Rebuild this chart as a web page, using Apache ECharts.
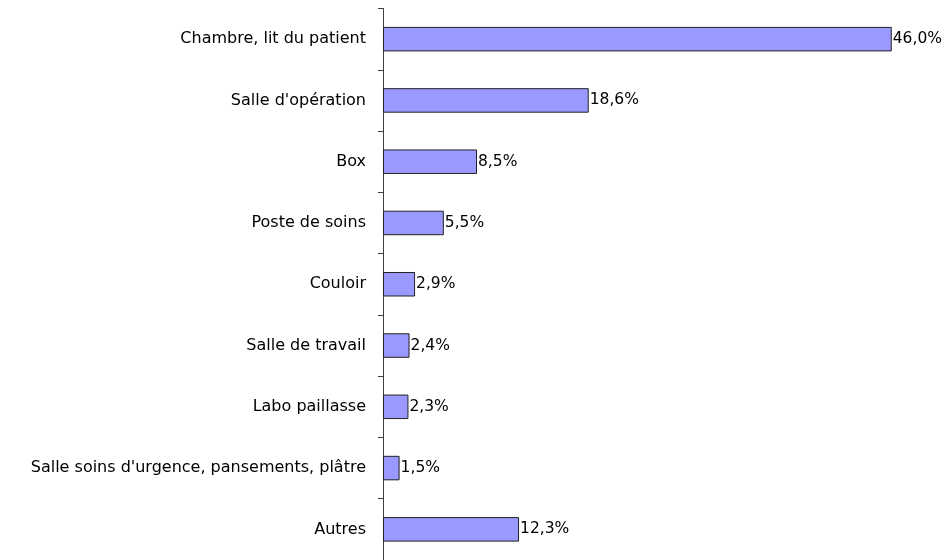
<!DOCTYPE html>
<html>
<head>
<meta charset="utf-8">
<script src="https://cdn.jsdelivr.net/npm/echarts@6/dist/echarts.min.js"></script>
<style>html,body{margin:0;padding:0;background:#fff}#c{width:948px;height:560px}</style>
</head>
<body>
<div id="c"></div>
<script>
const categories = ["Chambre, lit du patient", "Salle d'opération", "Box", "Poste de soins", "Couloir", "Salle de travail", "Labo paillasse", "Salle soins d'urgence, pansements, plâtre", "Autres"];
const values = [46.0, 18.6, 8.5, 5.5, 2.9, 2.4, 2.3, 1.5, 12.3];

const FONT = "DejaVu Sans";
const chart = echarts.init(document.getElementById('c'), null, {renderer: 'canvas'});
chart.setOption({
  animation: false,
  backgroundColor: '#ffffff',
  grid: {left: 383, top: 8.5, width: 553, height: 556, containLabel: false},
  xAxis: {type: 'value', min: 0, max: 50, show: false},
  yAxis: {
    type: 'category', data: categories, inverse: true,
    axisLine: {show: true, lineStyle: {color: '#404040', width: 1}},
    axisTick: {show: true, length: 5, alignWithLabel: false, lineStyle: {color: '#404040'}},
    axisLabel: {margin: 17, color: '#000', fontFamily: FONT, fontSize: 16},
    splitLine: {show: false}
  },
  series: [{
    type: 'bar', data: values, barWidth: '40%',
    itemStyle: {color: '#9999FF', borderColor: '#222', borderWidth: 1},
    label: {show: true, position: 'right', distance: 1, color: '#000', fontFamily: FONT, fontSize: 15.5,
      formatter: p => p.value.toFixed(1).replace('.', ',') + '%'}
  }]
});
</script>
</body>
</html>
